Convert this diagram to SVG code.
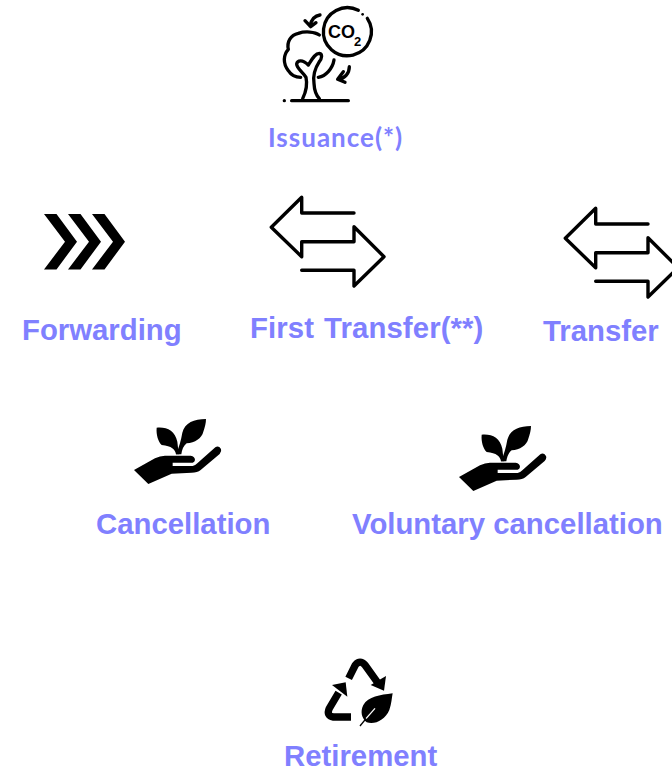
<svg xmlns="http://www.w3.org/2000/svg" width="672" height="771" viewBox="0 0 672 771">
<style>
.l{font-family:"Liberation Sans",Arial,sans-serif;font-weight:700;font-size:29.330px;fill:#8080ff}
.o{fill:none;stroke:#000;stroke-linecap:round;stroke-linejoin:round}
</style>
<defs>
<g id="swap"><path class="o" stroke-width="3.400" d="M354 213H301.700V197.300L271.300 227.300L301.700 256.700V241.700H354V226.700L384 256.700L354 286V270.300H301.700"/></g>
<g id="hand"><g transform="translate(120 410) scale(.3333)">
<path d="M42 180L105 145Q120 137 135 137L212 137Q225 139 225 150Q224 157 218 158L158 158L158 168L218 168Q226 166 232 160L286 112Q296 106 303 117Q306 124 299 132L242 180Q232 188 215 188L155 191L85 222Z"/>
<path d="M110 53C140 50 165 62 172 95C174 110 174 120 178 133L168 133C166 118 155 108 125 105C115 95 108 75 110 53Z"/>
<path d="M258 27C222 27 195 38 187 68C183 90 178 110 168 133L184 133C186 120 190 108 200 100C225 98 245 85 250 65C255 50 258 40 258 27Z"/>
</g></g>
<path id="chev" d="M44 214H56.500L77 241.700L56.500 269.500H44L65 241.700Z"/>
</defs>
<g id="connectors"/>
<g id="issuance">
<g transform="translate(260 0) scale(.3333)">
<g class="o" stroke-width="10">
<path d="M295 31A72 72 0 1 0 322 55"/>
<path d="M178 105C165 95 135 93 115 100C92 105 80 125 85 148C70 165 68 190 85 212C95 228 110 232 122 232"/>
<path d="M222 180C218 205 198 228 175 232"/>
<path d="M128 296C138 275 142 250 138 232C128 215 110 205 110 192C112 180 128 178 145 195C155 180 165 160 178 160C188 162 186 175 178 185C165 205 158 225 162 250C163 270 168 285 178 296"/>
<path d="M95 302H265"/>
<path d="M180 45C165 47 155 55 150 78M135 62L152 80L168 68"/>
<path d="M268 200C268 220 255 235 235 238M250 215L233 238L255 247"/>
</g>
<circle cx="73" cy="302" r="5"/><circle cx="308" cy="43" r="4"/>
</g>
<text x="328" y="38" font-family="Liberation Sans,sans-serif" font-weight="700" font-size="18">CO</text>
<text x="354" y="46" font-family="Liberation Sans,sans-serif" font-weight="700" font-size="13">2</text>
<text x="268" y="147" font-family="Lato,sans-serif" font-weight="700" font-size="26" letter-spacing="1" fill="#8080ff">Issuance(*)</text>
</g>
<g id="forwarding"><use href="#chev"/><use href="#chev" x="24"/><use href="#chev" x="48"/><text class="l" x="22" y="339.500">Forwarding</text></g>
<g id="first-transfer"><use href="#swap"/><text class="l" x="250" y="338" letter-spacing=".1" word-spacing="1.800">First Transfer(**)</text></g>
<g id="transfer"><use href="#swap" x="294" y="11"/><text class="l" x="543" y="341">Transfer</text></g>
<g id="cancellation"><use href="#hand"/><text class="l" x="96" y="534">Cancellation</text></g>
<g id="voluntary"><use href="#hand" x="325" y="7"/><text class="l" x="352" y="534">Voluntary cancellation</text></g>
<g id="retirement">
<g transform="translate(310 650) scale(.3333)">
<path class="o" style="stroke-linecap:butt" stroke-width="22" d="M116 85L136 45Q150 28 165 45L203 98"/>
<path d="M228 78L222 122L182 105Z"/>
<path class="o" style="stroke-linecap:butt" stroke-width="22" d="M123 201L70 201Q48 198 58 175L86 128"/>
<path d="M66 105L107 97L112 140Z"/>
<path d="M248 130C210 135 175 140 160 165C150 185 155 205 170 217C195 225 225 210 238 180C245 160 245 145 248 130Z"/>
<path d="M168 206L195 175" stroke="#fff" stroke-width="4" fill="none"/>
<path d="M150 228L168 206" stroke="#000" stroke-width="4" fill="none"/>
</g>
<text class="l" x="284" y="766">Retirement</text></g>
</svg>
